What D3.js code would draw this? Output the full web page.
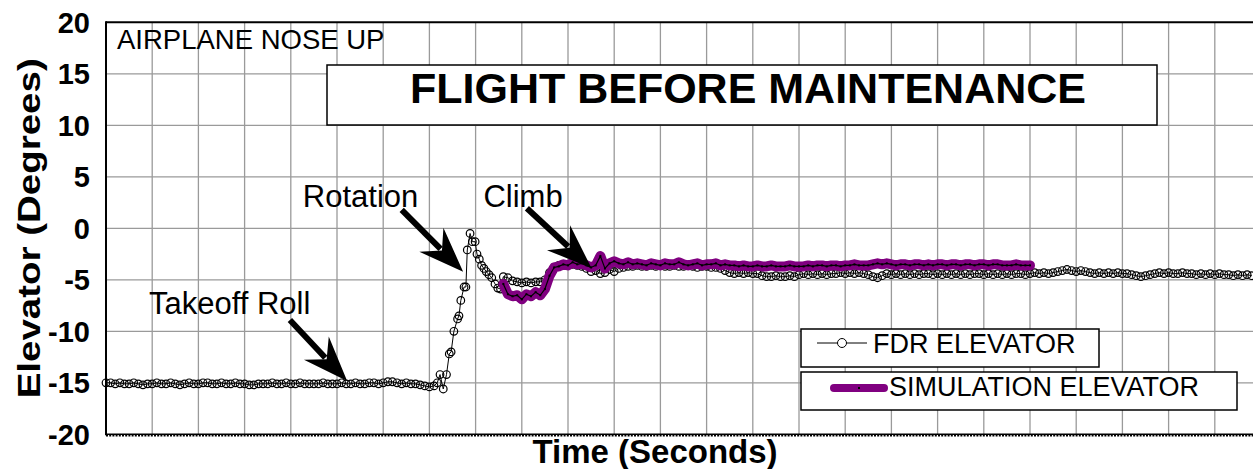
<!DOCTYPE html>
<html lang="en">

<head>
    <meta charset="UTF-8">
    <title>Flight Before Maintenance</title>
    <style>
        body {
            margin: 0;
            background: #fff;
        }

        svg {
            display: block;
            font-family: "Liberation Sans", Arial, sans-serif;
        }
    </style>
    <script src="https://d3js.org/d3.v7.min.js"></script>
</head>

<body>
    <div id="chart"></div>

    <script>
        // y axis ticks (degrees)
        const yTicks = [20, 15, 10, 5, 0, -5, -10, -15, -20];

        // FDR elevator, takeoff roll: sampled every 0.1 grid unit from t = 0
        const fdrRollStart = 0;
        const fdrRollStep = 0.1;
        const fdrRoll = [
            -15.0, -15.0, -15.1, -15.0, -15.1, -15.1, -15.0, -15.1, -15.2, -15.1,
            -15.1, -15.0, -15.1, -15.1, -15.0, -15.1, -15.2, -15.1, -15.0, -15.1,
            -15.1, -15.0, -15.0, -15.1, -15.1, -15.0, -15.1, -15.1, -15.0, -15.1,
            -15.1, -15.2, -15.2, -15.1, -15.1, -15.1, -15.0, -15.1, -15.1, -15.0,
            -15.1, -15.1, -15.0, -15.1, -15.1, -15.1, -15.1, -15.0, -15.1, -15.1,
            -15.1, -15.0, -15.1, -15.1, -15.0, -15.1, -15.1, -15.0, -15.0, -15.1,
            -15.0, -14.9, -14.9, -15.0, -15.1, -15.0, -15.1, -15.1, -15.2, -15.3,
            -15.4, -15.3
        ];

        // FDR elevator, rotation: [time, degrees]
        const fdrRotation = [
            [7.17, -15.0], [7.23, -14.2], [7.30, -15.6], [7.37, -14.2], [7.43, -12.2],
            [7.47, -12.0], [7.53, -10.0], [7.61, -8.8], [7.64, -8.5], [7.68, -7.0],
            [7.75, -5.7], [7.79, -5.7], [7.82, -2.1], [7.88, -0.5], [7.93, -1.3],
            [7.99, -1.3], [8.03, -2.5], [8.08, -3.0], [8.13, -3.6], [8.18, -3.9],
            [8.23, -4.2], [8.29, -4.5], [8.35, -4.8], [8.42, -5.4], [8.48, -5.8],
            [8.54, -5.9], [8.60, -4.7], [8.70, -4.8], [8.80, -5.1], [8.90, -5.2],
            [9.00, -5.3], [9.10, -5.2], [9.20, -5.3], [9.30, -5.2], [9.40, -5.2]
        ];

        // FDR elevator, climb: sampled every 0.1 grid unit from t = 9.5
        const fdrClimbStart = 9.5;
        const fdrClimbStep = 0.1;
        const fdrClimb = [
            -5.0, -4.3, -3.8, -3.6, -3.5, -3.6, -3.5, -3.6, -3.7, -3.9,
            -4.2, -4.1, -4.4, -4.3, -4.0, -4.2, -3.9, -3.8, -3.7, -3.7,
            -3.6, -3.7, -3.7, -3.6, -3.7, -3.6, -3.7, -3.7, -3.6, -3.7,
            -3.7, -3.6, -3.7, -3.8, -3.7, -3.7, -3.8, -3.8, -3.9, -4.1,
            -4.3, -4.4, -4.3, -4.4, -4.3, -4.4, -4.4, -4.6, -4.7, -4.7,
            -4.6, -4.7, -4.7, -4.6, -4.7, -4.5, -4.4, -4.5, -4.4, -4.5,
            -4.4, -4.5, -4.4, -4.4, -4.3, -4.4, -4.3, -4.4, -4.3, -4.4,
            -4.5, -4.7, -4.8, -4.6, -4.4, -4.5, -4.4, -4.5, -4.4, -4.5,
            -4.4, -4.5, -4.4, -4.4, -4.5, -4.4, -4.5, -4.4, -4.5, -4.4,
            -4.5, -4.4, -4.5, -4.4, -4.4, -4.5, -4.4, -4.5, -4.4, -4.5,
            -4.4, -4.5, -4.4, -4.4, -4.5, -4.4, -4.3, -4.4, -4.3, -4.4,
            -4.3, -4.2, -4.1, -4.0, -4.1, -4.2, -4.1, -4.2, -4.3, -4.4,
            -4.3, -4.4, -4.3, -4.4, -4.3, -4.4, -4.4, -4.5, -4.6, -4.7,
            -4.6, -4.5, -4.4, -4.3, -4.4, -4.3, -4.4, -4.4, -4.3, -4.4,
            -4.4, -4.5, -4.4, -4.5, -4.4, -4.5, -4.4, -4.5, -4.5, -4.6,
            -4.5, -4.6, -4.5, -4.6
        ];

        // Simulation elevator: sampled every 0.1 grid unit from t = 8.6
        const simStart = 8.6;
        const simStep = 0.1;
        const simElevator = [
            -5.4, -6.4, -6.6, -6.5, -6.9, -6.4, -6.6, -6.2, -6.5, -5.9,
            -4.6, -3.8, -3.7, -3.5, -3.6, -3.3, -3.5, -3.4, -3.6, -3.8,
            -3.6, -2.7, -3.9, -3.4, -3.2, -3.4, -3.5, -3.3, -3.5, -3.4,
            -3.5, -3.6, -3.4, -3.5, -3.6, -3.4, -3.5, -3.5, -3.3, -3.5,
            -3.6, -3.5, -3.4, -3.6, -3.5, -3.5, -3.4, -3.6, -3.5, -3.6,
            -3.6, -3.7, -3.6, -3.7, -3.7, -3.6, -3.7, -3.7, -3.6, -3.7,
            -3.7, -3.7, -3.6, -3.7, -3.7, -3.7, -3.6, -3.7, -3.6, -3.6,
            -3.7, -3.6, -3.6, -3.7, -3.6, -3.6, -3.5, -3.6, -3.6, -3.6,
            -3.5, -3.4, -3.5, -3.4, -3.5, -3.6, -3.5, -3.5, -3.6, -3.5,
            -3.5, -3.6, -3.5, -3.6, -3.5, -3.5, -3.6, -3.5, -3.5, -3.6,
            -3.5, -3.5, -3.6, -3.5, -3.5, -3.6, -3.5, -3.5, -3.6, -3.6,
            -3.6, -3.5, -3.6, -3.6, -3.6
        ];

        // annotations in data units: text anchor, arrow tail, arrow tip
        const notes = [
            { label: "Takeoff Roll", tx: 0.93, ty: -8.32, from: [3.98, -8.9], to: [5.22, -14.83] },
            { label: "Rotation", tx: 4.26, ty: 2.07, from: [6.40, 1.78], to: [7.73, -4.21] },
            { label: "Climb", tx: 8.17, ty: 2.07, from: [9.11, 1.94], to: [10.51, -3.88] }
        ];

        const width = 1253;
        const height = 469;
        const purple = "#800080";

        const x = d3.scaleLinear().domain([0, 25]).range([106, 1261]);
        const y = d3.scaleLinear().domain([-20, 20]).range([434.3, 22.3]);

        const fdr = fdrRoll.map((v, i) => [fdrRollStart + i * fdrRollStep, v])
            .concat(fdrRotation)
            .concat(fdrClimb.map((v, i) => [fdrClimbStart + i * fdrClimbStep, v]));
        const sim = simElevator.map((v, i) => [simStart + i * simStep, v]);

        const svg = d3.select("#chart")
            .append("svg")
            .attr("width", width)
            .attr("height", height);

        // grid
        const grid = svg.append("g")
            .attr("stroke", "#9a9a9a")
            .attr("stroke-width", 1.3);

        grid.selectAll("line.v")
            .data(d3.range(1, 25))
            .join("line")
            .attr("class", "v")
            .attr("x1", d => x(d))
            .attr("x2", d => x(d))
            .attr("y1", y(20))
            .attr("y2", y(-20));

        grid.selectAll("line.h")
            .data(yTicks.filter(d => d > -20 && d < 20))
            .join("line")
            .attr("class", "h")
            .attr("x1", x(0))
            .attr("x2", width)
            .attr("y1", d => y(d))
            .attr("y2", d => y(d));

        // frame
        svg.append("line")
            .attr("x1", x(0)).attr("x2", width)
            .attr("y1", y(20)).attr("y2", y(20))
            .attr("stroke", "#000").attr("stroke-width", 2);
        svg.append("line")
            .attr("x1", x(0)).attr("x2", x(0))
            .attr("y1", y(20) - 1).attr("y2", y(-20) + 1)
            .attr("stroke", "#000").attr("stroke-width", 2);
        svg.append("line")
            .attr("x1", x(0)).attr("x2", width)
            .attr("y1", y(-20)).attr("y2", y(-20))
            .attr("stroke", "#000").attr("stroke-width", 1.5);
        svg.append("line")
            .attr("x1", x(0)).attr("x2", width)
            .attr("y1", y(-20) + 1.5).attr("y2", y(-20) + 1.5)
            .attr("stroke", "#000").attr("stroke-width", 1.5)
            .attr("stroke-dasharray", "2,1.2");

        // y tick labels
        svg.append("g")
            .selectAll("text")
            .data(yTicks)
            .join("text")
            .attr("x", 90)
            .attr("y", d => y(d))
            .attr("dy", "0.36em")
            .attr("text-anchor", "end")
            .attr("font-weight", "bold")
            .attr("font-size", 29)
            .text(d => d);

        // axis titles
        svg.append("text")
            .attr("transform", `translate(40,${y(0)}) rotate(-90)`)
            .attr("text-anchor", "middle")
            .attr("font-weight", "bold")
            .attr("font-size", 31)
            .attr("textLength", 340)
            .attr("lengthAdjust", "spacingAndGlyphs")
            .text("Elevator (Degrees)");

        svg.append("text")
            .attr("x", 655)
            .attr("y", 463)
            .attr("text-anchor", "middle")
            .attr("font-weight", "bold")
            .attr("font-size", 33)
            .text("Time (Seconds)");

        svg.append("text")
            .attr("x", 117)
            .attr("y", 49)
            .attr("font-size", 27.5)
            .text("AIRPLANE NOSE UP");

        // FDR series
        const line = d3.line()
            .x(d => x(d[0]))
            .y(d => y(d[1]));

        svg.append("path")
            .datum(fdr)
            .attr("fill", "none")
            .attr("stroke", "#000")
            .attr("stroke-width", 1)
            .attr("d", line);

        svg.append("g")
            .selectAll("circle")
            .data(fdr)
            .join("circle")
            .attr("cx", d => x(d[0]))
            .attr("cy", d => y(d[1]))
            .attr("r", 3.8)
            .attr("fill", "none")
            .attr("stroke", "#000")
            .attr("stroke-width", 1.2);

        // simulation series
        svg.append("path")
            .datum(sim)
            .attr("fill", "none")
            .attr("stroke", purple)
            .attr("stroke-width", 10)
            .attr("stroke-linejoin", "round")
            .attr("stroke-linecap", "round")
            .attr("d", line);

        svg.append("path")
            .datum(sim)
            .attr("fill", "none")
            .attr("stroke", "#000")
            .attr("stroke-width", 1.2)
            .attr("d", line);

        svg.append("g")
            .selectAll("rect")
            .data(sim)
            .join("rect")
            .attr("x", d => x(d[0]) - 1)
            .attr("y", d => y(d[1]) - 1)
            .attr("width", 2)
            .attr("height", 2)
            .attr("fill", "#000");

        // annotations
        function arrowHead(x0, y0, x1, y1) {
            const len = Math.hypot(x1 - x0, y1 - y0);
            const ux = (x1 - x0) / len, uy = (y1 - y0) / len;
            const nx = -uy, ny = ux;
            const back = 45, half = 17, notch = 30;
            return [
                [x1, y1],
                [x1 - back * ux + half * nx, y1 - back * uy + half * ny],
                [x1 - notch * ux, y1 - notch * uy],
                [x1 - back * ux - half * nx, y1 - back * uy - half * ny]
            ];
        }

        function shaftEnd(d) {
            const x0 = x(d.from[0]), y0 = y(d.from[1]), x1 = x(d.to[0]), y1 = y(d.to[1]);
            const len = Math.hypot(x1 - x0, y1 - y0);
            return [x1 - 32 * (x1 - x0) / len, y1 - 32 * (y1 - y0) / len];
        }

        const note = svg.append("g")
            .selectAll("g")
            .data(notes)
            .join("g");

        note.append("text")
            .attr("x", d => x(d.tx))
            .attr("y", d => y(d.ty))
            .attr("font-size", 31)
            .text(d => d.label);

        note.append("line")
            .attr("x1", d => x(d.from[0]))
            .attr("y1", d => y(d.from[1]))
            .attr("x2", d => shaftEnd(d)[0])
            .attr("y2", d => shaftEnd(d)[1])
            .attr("stroke", "#000")
            .attr("stroke-width", 6);

        note.append("polygon")
            .attr("points", d => arrowHead(x(d.from[0]), y(d.from[1]), x(d.to[0]), y(d.to[1])).join(" "))
            .attr("fill", "#000");

        // title box
        svg.append("rect")
            .attr("x", 327).attr("y", 65)
            .attr("width", 830).attr("height", 60)
            .attr("fill", "#fff")
            .attr("stroke", "#000")
            .attr("stroke-width", 1.5);
        svg.append("text")
            .attr("x", 748)
            .attr("y", 103)
            .attr("text-anchor", "middle")
            .attr("font-weight", "bold")
            .attr("font-size", 43)
            .text("FLIGHT BEFORE MAINTENANCE");

        // legend
        const legend = svg.append("g");

        legend.append("rect")
            .attr("x", 801).attr("y", 329)
            .attr("width", 298).attr("height", 38)
            .attr("fill", "#fff")
            .attr("stroke", "#000")
            .attr("stroke-width", 1.5);
        legend.append("line")
            .attr("x1", 817).attr("x2", 867)
            .attr("y1", 343).attr("y2", 343)
            .attr("stroke", "#000").attr("stroke-width", 1);
        legend.append("circle")
            .attr("cx", 842).attr("cy", 343).attr("r", 4.5)
            .attr("fill", "#fff").attr("stroke", "#000").attr("stroke-width", 1);
        legend.append("text")
            .attr("x", 873).attr("y", 352.7)
            .attr("font-size", 27)
            .text("FDR ELEVATOR");

        legend.append("rect")
            .attr("x", 801).attr("y", 372)
            .attr("width", 436).attr("height", 38)
            .attr("fill", "#fff")
            .attr("stroke", "#000")
            .attr("stroke-width", 1.5);
        legend.append("line")
            .attr("x1", 834).attr("x2", 884)
            .attr("y1", 388).attr("y2", 388)
            .attr("stroke", purple).attr("stroke-width", 8)
            .attr("stroke-linecap", "round");
        legend.append("rect")
            .attr("x", 858).attr("y", 387)
            .attr("width", 2).attr("height", 2)
            .attr("fill", "#000");
        legend.append("text")
            .attr("x", 889).attr("y", 396)
            .attr("font-size", 27)
            .text("SIMULATION ELEVATOR");
    </script>
</body>

</html>
